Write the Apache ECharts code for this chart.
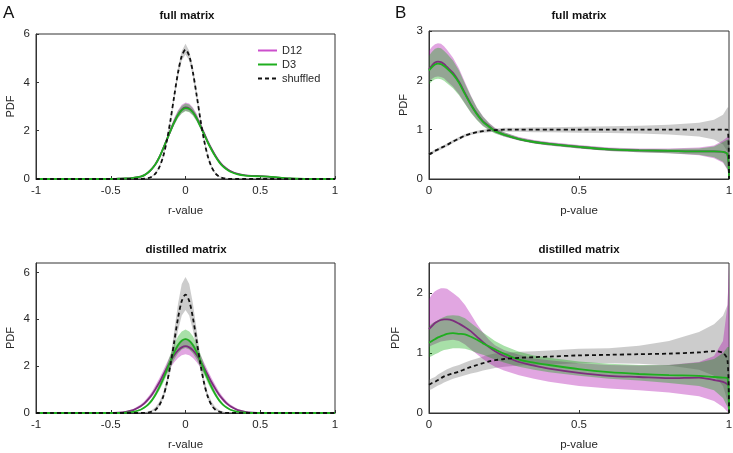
<!DOCTYPE html>
<html><head><meta charset="utf-8">
<script src="https://cdn.jsdelivr.net/npm/echarts@6/dist/echarts.min.js"></script>
<style>html,body{margin:0;padding:0;background:#fff}#c{width:733px;height:453px}</style>
</head><body><div id="c"></div><script>
// ---------- tick labels / text ----------
const rTicks = [-1, -0.5, 0, 0.5, 1];
const pTicks = [0, 0.5, 1];
const pdfTicksA = [0, 2, 4, 6];
const pdfTicksBfull = [0, 1, 2, 3];
const pdfTicksBdist = [0, 1, 2];
const panelTitles = ['full matrix', 'full matrix', 'distilled matrix', 'distilled matrix'];
const panelLetters = ['A', 'B'];
const seriesNames = ['D12', 'D3', 'shuffled'];

// ---------- x samples ----------
const rX = [-1,-0.9,-0.8,-0.7,-0.6,-0.5,-0.45,-0.4,-0.35,-0.3,-0.275,-0.25,-0.225,-0.2,-0.175,-0.15,-0.125,-0.1,-0.075,-0.05,-0.025,0,0.025,0.05,0.075,0.1,0.125,0.15,0.175,0.2,0.225,0.25,0.275,0.3,0.35,0.4,0.45,0.5,0.55,0.6,0.65,0.7,0.8,0.9,1];
const pX = [0,0.01,0.02,0.03,0.04,0.05,0.06,0.08,0.1,0.12,0.14,0.16,0.18,0.2,0.22,0.25,0.3,0.35,0.4,0.5,0.6,0.7,0.8,0.9,0.95,0.98,0.995,1];

// ---------- A, full matrix (r-value) ----------
const aFullShuf   = [0,0,0,0,0,0,0,0,0, 0,0.014,0.04,0.1,0.235,0.49,0.92,1.58,2.45,3.45,4.4,5.09,5.35,5.09,4.4,3.45,2.45,1.58,0.92,0.49,0.235,0.1,0.04,0.014,0, 0,0,0,0,0,0,0,0,0,0,0];
const aFullShufLo = [0,0,0,0,0,0,0,0,0, 0,0.01,0.03,0.08,0.2,0.45,0.86,1.5,2.34,3.3,4.22,4.9,5.15,4.9,4.22,3.3,2.34,1.5,0.86,0.45,0.2,0.08,0.03,0.01,0, 0,0,0,0,0,0,0,0,0,0,0];
const aFullShufHi = [0,0,0,0,0,0,0,0,0, 0.005,0.02,0.05,0.12,0.27,0.54,0.99,1.67,2.57,3.6,4.6,5.3,5.6,5.3,4.6,3.6,2.57,1.67,0.99,0.54,0.27,0.12,0.05,0.02,0.005, 0,0,0,0,0,0,0,0,0,0,0];
const aFullD3   = [0,0,0,0,0,0, 0.01,0.02,0.05,0.1,0.16,0.27,0.42,0.62,0.9,1.25,1.62,2.0,2.35,2.65,2.85,2.93,2.9,2.75,2.5,2.18,1.85,1.5,1.2,0.93,0.7,0.52,0.4,0.3,0.19,0.14,0.12,0.11,0.1,0.08,0.05,0.02,0,0,0];
const aFullD3Lo = [0,0,0,0,0,0, 0.01,0.02,0.04,0.09,0.15,0.25,0.4,0.59,0.86,1.19,1.54,1.9,2.23,2.52,2.71,2.8,2.76,2.62,2.38,2.07,1.76,1.43,1.14,0.88,0.66,0.49,0.38,0.28,0.17,0.12,0.1,0.09,0.08,0.06,0.04,0.01,0,0,0];
const aFullD3Hi = [0,0,0,0,0,0, 0.01,0.03,0.06,0.11,0.17,0.29,0.45,0.66,0.95,1.32,1.72,2.12,2.49,2.81,3.02,3.12,3.08,2.92,2.65,2.31,1.96,1.59,1.27,0.99,0.75,0.56,0.43,0.33,0.21,0.16,0.14,0.13,0.12,0.1,0.07,0.03,0.01,0,0];
const aFullD12   = [0,0,0,0,0,0, 0.01,0.02,0.05,0.1,0.16,0.27,0.42,0.62,0.9,1.25,1.62,2.0,2.36,2.66,2.87,2.96,2.92,2.77,2.52,2.2,1.87,1.53,1.23,0.96,0.73,0.55,0.43,0.33,0.21,0.15,0.13,0.12,0.1,0.07,0.04,0.02,0,0,0];
const aFullD12Lo = [0,0,0,0,0,0, 0.01,0.02,0.04,0.09,0.15,0.25,0.4,0.59,0.86,1.19,1.54,1.9,2.24,2.53,2.73,2.82,2.78,2.64,2.4,2.09,1.78,1.46,1.17,0.91,0.69,0.52,0.41,0.31,0.2,0.14,0.12,0.11,0.09,0.06,0.03,0.01,0,0,0];
const aFullD12Hi = [0,0,0,0,0,0, 0.01,0.03,0.06,0.11,0.18,0.29,0.45,0.67,0.96,1.34,1.74,2.14,2.53,2.85,3.07,3.17,3.12,2.96,2.7,2.35,2.0,1.64,1.32,1.03,0.78,0.59,0.46,0.35,0.23,0.16,0.14,0.13,0.11,0.08,0.05,0.02,0.01,0,0];

// ---------- A, distilled matrix (r-value) ----------
const aDistShuf   = [0,0,0,0,0,0,0,0,0, 0,0.005,0.02,0.06,0.14,0.33,0.68,1.26,2.08,3.06,4.05,4.78,5.05,4.78,4.05,3.06,2.08,1.26,0.68,0.33,0.14,0.06,0.02,0.005,0, 0,0,0,0,0,0,0,0,0,0,0];
const aDistShufLo = [0,0,0,0,0,0,0,0,0, 0,0,0.015,0.05,0.12,0.28,0.59,1.1,1.81,2.66,3.52,4.16,4.4,4.16,3.52,2.66,1.81,1.1,0.59,0.28,0.12,0.05,0.015,0,0, 0,0,0,0,0,0,0,0,0,0,0];
const aDistShufHi = [0,0,0,0,0,0,0,0,0, 0.01,0.02,0.06,0.13,0.26,0.48,0.82,1.45,2.39,3.52,4.66,5.5,5.8,5.5,4.66,3.52,2.39,1.45,0.82,0.48,0.26,0.13,0.06,0.02,0.01, 0,0,0,0,0,0,0,0,0,0,0];
const aDistD3   = [0,0,0,0,0,0, 0,0.01,0.045, 0.14,0.23,0.36,0.54,0.79,1.09,1.44,1.83,2.23,2.59,2.89,3.08,3.15,3.08,2.89,2.59,2.23,1.83,1.44,1.09,0.79,0.54,0.36,0.23,0.14, 0.045,0.01,0, 0,0,0,0,0,0,0,0];
const aDistD3Lo = [0,0,0,0,0,0, 0,0.01,0.04, 0.12,0.2,0.32,0.48,0.7,0.96,1.27,1.61,1.96,2.28,2.54,2.71,2.77,2.71,2.54,2.28,1.96,1.61,1.27,0.96,0.7,0.48,0.32,0.2,0.12, 0.04,0.01,0, 0,0,0,0,0,0,0,0];
const aDistD3Hi = [0,0,0,0,0,0, 0,0.02,0.06, 0.17,0.27,0.42,0.62,0.89,1.23,1.63,2.07,2.52,2.93,3.27,3.48,3.56,3.48,3.27,2.93,2.52,2.07,1.63,1.23,0.89,0.62,0.42,0.27,0.17, 0.06,0.02,0, 0,0,0,0,0,0,0,0];
const aDistD12   = [0,0,0,0,0,0, 0.016,0.05,0.125, 0.29,0.41,0.58,0.78,1.03,1.3,1.61,1.91,2.21,2.47,2.67,2.8,2.85,2.8,2.67,2.47,2.21,1.91,1.61,1.3,1.03,0.78,0.58,0.41,0.29, 0.125,0.05,0.016, 0,0,0,0,0,0,0,0];
const aDistD12Lo = [0,0,0,0,0,0, 0.01,0.04,0.1, 0.24,0.35,0.5,0.68,0.9,1.14,1.42,1.68,1.94,2.17,2.35,2.46,2.51,2.46,2.35,2.17,1.94,1.68,1.42,1.14,0.9,0.68,0.5,0.35,0.24, 0.1,0.04,0.01, 0,0,0,0,0,0,0,0];
const aDistD12Hi = [0,0,0,0,0,0.005, 0.03,0.08,0.17, 0.36,0.5,0.69,0.91,1.19,1.48,1.8,2.14,2.48,2.77,2.99,3.14,3.19,3.14,2.99,2.77,2.48,2.14,1.8,1.48,1.19,0.91,0.69,0.5,0.36, 0.17,0.08,0.03, 0.005,0,0,0,0,0,0,0];

// ---------- B, full matrix (p-value) ----------
const bFullShuf   = [0.5,0.53,0.57,0.6,0.63,0.66,0.69,0.76,0.82,0.88,0.92,0.95,0.97,0.985,0.99,1.0,1.0,1.0,1.0,1.0,1.0,1.0,1.0,1.0,1.0,1.0,1.0,0];
const bFullShufLo = [0.47,0.5,0.54,0.57,0.6,0.63,0.66,0.73,0.79,0.85,0.89,0.92,0.94,0.95,0.96,0.96,0.96,0.95,0.95,0.94,0.93,0.92,0.9,0.86,0.8,0.7,0.55,0];
const bFullShufHi = [0.53,0.56,0.6,0.63,0.66,0.69,0.72,0.79,0.85,0.91,0.95,0.98,1.0,1.02,1.02,1.04,1.04,1.05,1.05,1.06,1.07,1.08,1.1,1.14,1.2,1.3,1.45,1.45];
const bFullD3   = [2.2,2.27,2.32,2.34,2.33,2.29,2.24,2.12,1.95,1.72,1.5,1.31,1.16,1.06,0.97,0.9,0.81,0.75,0.71,0.65,0.6,0.58,0.57,0.56,0.56,0.55,0.5,0];
const bFullD3Lo = [1.92,1.98,2.02,2.03,2.02,1.99,1.94,1.84,1.7,1.52,1.34,1.19,1.07,0.99,0.92,0.86,0.78,0.72,0.68,0.62,0.57,0.54,0.52,0.49,0.44,0.35,0.2,0];
const bFullD3Hi = [2.5,2.58,2.64,2.66,2.65,2.6,2.54,2.4,2.2,1.93,1.67,1.44,1.26,1.13,1.03,0.95,0.84,0.78,0.74,0.68,0.63,0.61,0.61,0.62,0.66,0.75,0.8,0.8];
const bFullD12   = [2.22,2.3,2.36,2.38,2.37,2.33,2.27,2.15,1.97,1.74,1.51,1.32,1.17,1.07,0.98,0.9,0.81,0.75,0.71,0.65,0.6,0.58,0.57,0.56,0.56,0.55,0.5,0];
const bFullD12Lo = [1.96,2.03,2.07,2.08,2.07,2.04,1.98,1.87,1.72,1.53,1.35,1.2,1.08,1.0,0.93,0.86,0.78,0.72,0.68,0.62,0.57,0.54,0.52,0.48,0.42,0.33,0.18,0];
const bFullD12Hi = [2.6,2.68,2.73,2.75,2.74,2.69,2.62,2.46,2.24,1.96,1.69,1.45,1.27,1.14,1.04,0.95,0.85,0.79,0.75,0.69,0.64,0.62,0.62,0.64,0.68,0.78,0.85,0.85];

// ---------- B, distilled matrix (p-value) ----------
const bDistShuf   = [0.47,0.5,0.52,0.55,0.58,0.61,0.63,0.66,0.69,0.73,0.77,0.8,0.83,0.86,0.88,0.9,0.92,0.93,0.94,0.96,0.97,0.98,0.99,1.01,1.03,1.0,0.88,0];
const bDistShufLo = [0.38,0.4,0.43,0.46,0.48,0.51,0.53,0.57,0.6,0.63,0.66,0.68,0.71,0.73,0.75,0.77,0.79,0.8,0.81,0.83,0.83,0.82,0.79,0.72,0.62,0.45,0.2,0];
const bDistShufHi = [0.55,0.58,0.6,0.64,0.67,0.7,0.73,0.77,0.8,0.84,0.88,0.91,0.94,0.97,0.99,1.0,1.02,1.03,1.04,1.07,1.08,1.12,1.2,1.35,1.48,1.62,1.8,2.4];
const bDistD3   = [1.17,1.2,1.23,1.26,1.28,1.3,1.32,1.33,1.32,1.31,1.27,1.22,1.16,1.11,1.06,0.99,0.89,0.84,0.8,0.73,0.68,0.65,0.63,0.62,0.6,0.59,0.58,0];
const bDistD3Lo = [0.93,0.95,0.98,1.0,1.03,1.05,1.06,1.08,1.08,1.07,1.04,1.0,0.97,0.93,0.89,0.84,0.77,0.72,0.68,0.62,0.57,0.54,0.5,0.45,0.38,0.25,0.1,0];
const bDistD3Hi = [1.45,1.49,1.52,1.55,1.58,1.6,1.62,1.63,1.62,1.58,1.5,1.42,1.34,1.27,1.2,1.12,1.02,0.96,0.92,0.86,0.82,0.8,0.8,0.84,0.9,1.0,1.1,1.1];
const bDistD12   = [1.4,1.45,1.5,1.53,1.55,1.56,1.56,1.54,1.49,1.43,1.36,1.27,1.18,1.1,1.03,0.95,0.85,0.79,0.74,0.67,0.62,0.6,0.58,0.59,0.55,0.52,0.48,0.45];
const bDistD12Lo = [1.1,1.13,1.15,1.17,1.19,1.2,1.21,1.22,1.2,1.14,1.06,0.98,0.9,0.83,0.77,0.71,0.63,0.57,0.52,0.45,0.41,0.38,0.34,0.28,0.2,0.1,0.02,0];
const bDistD12Hi = [1.9,1.98,2.03,2.06,2.08,2.08,2.07,2.0,1.92,1.8,1.64,1.48,1.34,1.22,1.13,1.05,0.97,0.91,0.88,0.83,0.8,0.79,0.8,0.85,0.95,1.2,1.8,2.5];

// ---------- build ----------
const FONT = "'Liberation Sans', Arial, Helvetica, sans-serif";
const TXT = '#262626';
const C = {
  d12Line: '#7d2e7d', d12Legend: '#cc4fcc', d3Line: '#1fae1f', shuf: '#111111',
  greyBand: 'rgba(128,128,128,0.40)', magBand: 'rgba(170,0,170,0.35)', grnBand: 'rgba(0,165,0,0.34)'
};

const panels = [
  { xs: rX, shuf: [aFullShuf, aFullShufLo, aFullShufHi], d12: [aFullD12, aFullD12Lo, aFullD12Hi], d3: [aFullD3, aFullD3Lo, aFullD3Hi] },
  { xs: pX, shuf: [bFullShuf, bFullShufLo, bFullShufHi], d12: [bFullD12, bFullD12Lo, bFullD12Hi], d3: [bFullD3, bFullD3Lo, bFullD3Hi] },
  { xs: rX, shuf: [aDistShuf, aDistShufLo, aDistShufHi], d12: [aDistD12, aDistD12Lo, aDistD12Hi], d3: [aDistD3, aDistD3Lo, aDistD3Hi] },
  { xs: pX, shuf: [bDistShuf, bDistShufLo, bDistShufHi], d12: [bDistD12, bDistD12Lo, bDistD12Hi], d3: [bDistD3, bDistD3Lo, bDistD3Hi] }
];

function bandSeries(g, xs, lo, hi, color, name) {
  return {
    type: 'custom', name: name, xAxisIndex: g, yAxisIndex: g, silent: true, z: 2, clip: true,
    data: xs.map((x, i) => [x, lo[i], hi[i]]),
    encode: { x: 0, y: [1, 2] },
    renderItem: function (params, api) {
      if (params.dataIndexInside !== 0) return null;
      const n = params.dataInsideLength;
      const up = [], dn = [];
      for (let j = 0; j < n; j++) {
        up.push(api.coord([api.value(0, j), api.value(2, j)]));
        dn.push(api.coord([api.value(0, j), api.value(1, j)]));
      }
      return { type: 'polygon', shape: { points: up.concat(dn.reverse()) }, style: { fill: color } };
    }
  };
}
function lineSeries(g, xs, ys, name, color, dashed) {
  return {
    type: 'line', name: name, xAxisIndex: g, yAxisIndex: g, z: 3, silent: true,
    data: xs.map((x, i) => [x, ys[i]]), symbol: 'none', smooth: 0.3, showSymbol: false,
    lineStyle: { color: color, width: 1.8, type: dashed ? [4, 3] : 'solid' },
    itemStyle: { color: color }
  };
}

const series = [];
panels.forEach((p, g) => {
  series.push(bandSeries(g, p.xs, p.shuf[1], p.shuf[2], C.greyBand, 'shuffled band'));
  series.push(bandSeries(g, p.xs, p.d12[1], p.d12[2], C.magBand, 'D12 band'));
  series.push(bandSeries(g, p.xs, p.d3[1], p.d3[2], C.grnBand, 'D3 band'));
  series.push(lineSeries(g, p.xs, p.d12[0], seriesNames[0], C.d12Line, false));
  series.push(lineSeries(g, p.xs, p.d3[0], seriesNames[1], C.d3Line, false));
  series.push(lineSeries(g, p.xs, p.shuf[0], seriesNames[2], C.shuf, true));
});

const grids = [
  { left: 36, top: 34, width: 299, height: 145 },
  { left: 429, top: 31, width: 300, height: 148 },
  { left: 36, top: 263, width: 299, height: 150 },
  { left: 429, top: 263, width: 300, height: 150 }
].map(g => Object.assign(g, { show: true, borderColor: '#333', borderWidth: 1, backgroundColor: 'transparent', containLabel: false, outerBoundsMode: 'none' }));

function axisLine() { return { show: true, onZero: false, lineStyle: { color: '#333', width: 1 } }; }
function xAx(g, min, max, ticks, name) {
  return {
    type: 'value', gridIndex: g, min: min, max: max, name: name, nameLocation: 'middle', nameGap: 26,
    nameTextStyle: { fontFamily: FONT, color: TXT, fontSize: 11.5 },
    axisLine: axisLine(), splitLine: { show: false },
    axisTick: { show: true, inside: true, length: 3, customValues: ticks, lineStyle: { color: '#333' } },
    axisLabel: { show: true, customValues: ticks, margin: 6, fontSize: 11.5, fontFamily: FONT, color: TXT }
  };
}
function yAx(g, max, ticks, gap) {
  return {
    type: 'value', gridIndex: g, min: 0, max: max, name: 'PDF', nameLocation: 'middle', nameGap: gap,
    nameTextStyle: { fontFamily: FONT, color: TXT, fontSize: 11 },
    axisLine: axisLine(), splitLine: { show: false },
    axisTick: { show: true, inside: true, length: 3, customValues: ticks, lineStyle: { color: '#333' } },
    axisLabel: { show: true, customValues: ticks, margin: 6, fontSize: 11.5, fontFamily: FONT, color: TXT }
  };
}

const titleSpec = [[187, 15.5], [579, 15.5], [186, 249.5], [579, 249.5]];
const graphic = panelTitles.map((t, i) => ({
  type: 'text', x: titleSpec[i][0], y: titleSpec[i][1], silent: true,
  style: { text: t, align: 'center', verticalAlign: 'middle', textAlign: 'center', textVerticalAlign: 'middle',
           font: 'bold 11.5px ' + FONT, fill: '#111' }
})).concat(panelLetters.map((t, i) => ({
  type: 'text', x: [3, 395][i], y: 13, silent: true,
  style: { text: t, align: 'left', verticalAlign: 'middle', textAlign: 'left', textVerticalAlign: 'middle',
           font: '17px ' + FONT, fill: '#111' }
})));

const chart = echarts.init(document.getElementById('c'), null, { renderer: 'canvas' });
chart.setOption({
  animation: false,
  backgroundColor: '#fff',
  grid: grids,
  xAxis: [xAx(0, -1, 1, rTicks, 'r-value'), xAx(1, 0, 1, pTicks, 'p-value'), xAx(2, -1, 1, rTicks, 'r-value'), xAx(3, 0, 1, pTicks, 'p-value')],
  yAxis: [yAx(0, 6, pdfTicksA, 20), yAx(1, 3, pdfTicksBfull, 20), yAx(2, 6.4, pdfTicksA, 20), yAx(3, 2.5, pdfTicksBdist, 28)],
  legend: {
    orient: 'vertical', left: 257, top: 45, padding: 0,
    itemWidth: 19, itemHeight: 10, itemGap: 3,
    itemStyle: { opacity: 0 },
    textStyle: { fontSize: 11, fontFamily: FONT, color: TXT },
    data: [
      { name: seriesNames[0], itemStyle: { color: C.d12Legend, opacity: 0 }, lineStyle: { color: C.d12Legend } },
      { name: seriesNames[1] },
      { name: seriesNames[2] }
    ],
    selectedMode: false
  },
  graphic: graphic,
  series: series
});
</script></body></html>
